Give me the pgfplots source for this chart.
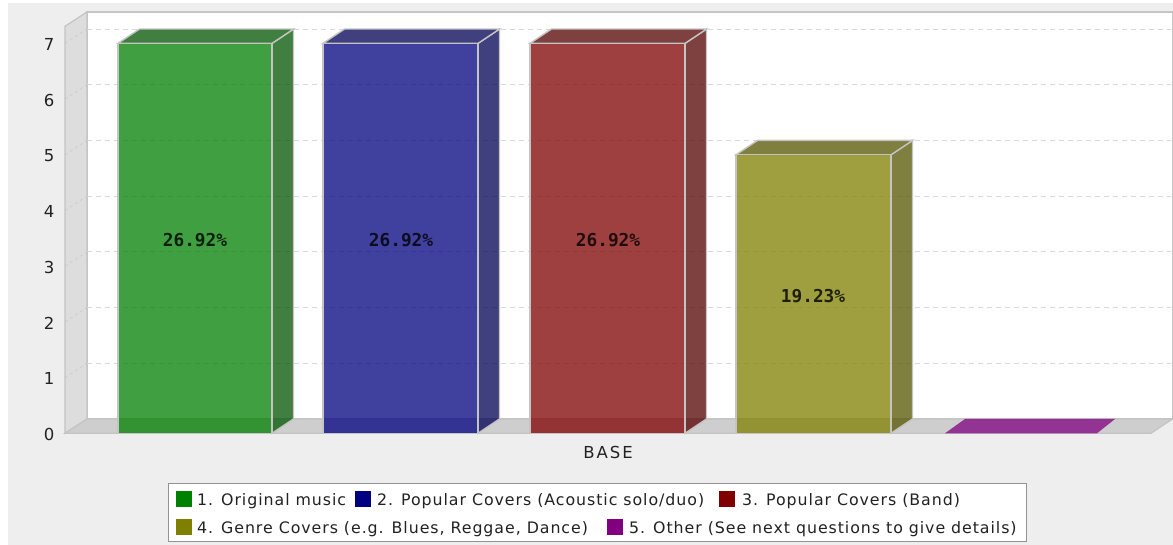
\documentclass[border=0pt]{standalone}
\usepackage{pgfplots}
\pgfplotsset{compat=1.18}
\usepackage{fontspec}
\setmainfont{DejaVu Sans}
\newfontfamily\labelfont{DejaVu Sans Mono}
\newfontfamily\spaced[LetterSpace=6]{DejaVu Sans}
\newfontfamily\spacedB[LetterSpace=12]{DejaVu Sans}
\definecolor{cA}{HTML}{008000}\definecolor{cAd}{HTML}{005500}
\definecolor{cB}{HTML}{000080}\definecolor{cBd}{HTML}{000055}
\definecolor{cC}{HTML}{800000}\definecolor{cCd}{HTML}{550000}
\definecolor{cD}{HTML}{808000}\definecolor{cDd}{HTML}{555500}
\definecolor{cE}{HTML}{800080}
\definecolor{bgc}{HTML}{EEEEEE}\definecolor{edgec}{HTML}{C4C4C4}
\definecolor{wallc}{HTML}{DDDDDD}\definecolor{floorc}{HTML}{CECECE}
\definecolor{gridc}{HTML}{D8D8D8}\definecolor{textc}{HTML}{222222}
\tikzset{
  face/.style={fill=#1, fill opacity=0.75, draw=edgec, line width=1.4pt},
  lt/.style={anchor=base west, inner sep=0pt, text=textc, font=\spaced\fontsize{15.8}{18}\selectfont},
  dl/.style={text=black, text opacity=0.8, inner sep=0pt, font=\labelfont\bfseries\fontsize{17.8}{20}\selectfont}
}
\begin{document}
\begin{tikzpicture}[x=1pt,y=1pt]
\path[use as bounding box] (0,0) rectangle (1173,545);
\fill[bgc] (8,0) rectangle (1173,542);
\begin{axis}[
  at={(65pt,111.7pt)}, anchor=south west, scale only axis,
  width=1086pt, height=407pt,
  xmin=65, xmax=1151, ymin=0, ymax=7.306,
  clip=false,
  axis x line*=bottom, axis y line*=left,
  axis line style={draw=edgec!85!black, line width=1pt, -},
  xtick={608}, xticklabels={{\spacedB BASE}},
  ytick={0,1,2,3,4,5,6,7},
  major tick length=4pt,
  tick style={draw=gray, line width=0.9pt},
  xtick style={draw=none},
  tick label style={font=\fontsize{16.5}{18}\selectfont, text=textc},
  /pgf/number format/assume math mode=true,
  yticklabel style={xshift=-7pt, yshift=-1pt},
  xticklabel style={yshift=-9pt},
]
% back plane, wall, floor
\addplot[fill=white, draw=edgec, line width=1.6pt] coordinates {(87,0.257)(87,7.563)(1172.5,7.563)(1172.5,0.257)} --cycle;
\addplot[fill=wallc, draw=edgec, line width=1.2pt] coordinates {(65,0)(87,0.257)(87,7.563)(65,7.306)} --cycle;
\addplot[fill=floorc, draw=edgec, line width=1.2pt] coordinates {(65,0)(87,0.257)(1172.5,0.257)(1151,0)} --cycle;
% grid on wall and back plane
\foreach \v in {1,2,3,4,5,6,7}{
  \edef\temp{\noexpand\addplot[gridc!80!black, opacity=0.35, dashed, line width=0.7pt] coordinates {(65,\v)(87,\v.257)};
  \noexpand\addplot[gridc, dash pattern=on 5pt off 4pt, line width=1pt] coordinates {(87,\v.257)(1171,\v.257)};}
  \temp
}
% bar 1
\addplot[face=cAd] coordinates {(272,0)(293.5,0.257)(293.5,7.257)(272,7)} --cycle;
\addplot[face=cAd] coordinates {(118,7)(139.5,7.257)(293.5,7.257)(272,7)} --cycle;
\addplot[face=cA] coordinates {(118,0)(118,7)(272,7)(272,0)} --cycle;
% bar 2
\addplot[face=cBd] coordinates {(478,0)(499.5,0.257)(499.5,7.257)(478,7)} --cycle;
\addplot[face=cBd] coordinates {(323,7)(344.5,7.257)(499.5,7.257)(478,7)} --cycle;
\addplot[face=cB] coordinates {(323,0)(323,7)(478,7)(478,0)} --cycle;
% bar 3
\addplot[face=cCd] coordinates {(685,0)(706.5,0.257)(706.5,7.257)(685,7)} --cycle;
\addplot[face=cCd] coordinates {(530,7)(551.5,7.257)(706.5,7.257)(685,7)} --cycle;
\addplot[face=cC] coordinates {(530,0)(530,7)(685,7)(685,0)} --cycle;
% bar 4
\addplot[face=cDd] coordinates {(891,0)(912.5,0.257)(912.5,5.257)(891,5)} --cycle;
\addplot[face=cDd] coordinates {(736,5)(757.5,5.257)(912.5,5.257)(891,5)} --cycle;
\addplot[face=cD] coordinates {(736,0)(736,5)(891,5)(891,0)} --cycle;
% bar 5 (zero height)
\addplot[fill=cE, fill opacity=0.75, draw=none] coordinates {(945,0)(965,0.257)(1115,0.257)(1097,0)} --cycle;
% value labels
\node[dl] at (axis cs:195,3.46) {26.92\%};
\node[dl] at (axis cs:401,3.46) {26.92\%};
\node[dl] at (axis cs:608,3.46) {26.92\%};
\node[dl] at (axis cs:813,2.46) {19.23\%};
\end{axis}
% legend
\draw[draw=gray!85, fill=white, line width=1pt] (168,3) rectangle (1026,61);
\fill[cA] (176,38) rectangle (191.5,54);
\fill[cB] (355,38) rectangle (370.5,54);
\fill[cC] (719,38) rectangle (734.5,54);
\fill[cD] (176,10) rectangle (191.5,26);
\fill[cE] (607,10) rectangle (622.5,26);
\node[lt] at (197,39) {1. Original music};
\node[lt] at (377,39) {2. Popular Covers (Acoustic solo/duo)};
\node[lt] at (742,39) {3. Popular Covers (Band)};
\node[lt] at (197,11) {4. Genre Covers (e.g. Blues, Reggae, Dance)};
\node[lt] at (629,11) {5. Other (See next questions to give details)};
\end{tikzpicture}
\end{document}
